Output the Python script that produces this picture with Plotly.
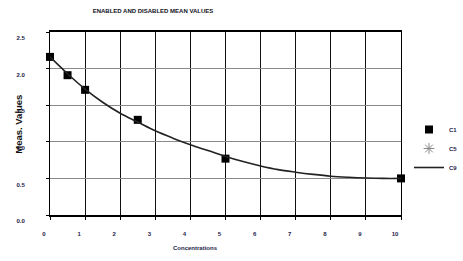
import plotly.graph_objects as go

# Data
c1_x = [0, 0.5, 1, 2.5, 5, 10]
c1_y = [2.16, 1.91, 1.71, 1.30, 0.77, 0.50]

c9_x = [0, 0.5, 1, 1.5, 2, 2.5, 3, 3.5, 4, 4.5, 5, 5.5, 6, 6.5, 7, 7.5, 8, 8.5, 9, 9.5, 10]
c9_y = [2.16, 1.93, 1.72, 1.54, 1.39, 1.27, 1.15, 1.05, 0.96, 0.88, 0.80, 0.73, 0.67, 0.62, 0.585, 0.555, 0.53, 0.515, 0.505, 0.50, 0.50]

x_ticks = [0, 1, 2, 3, 4, 5, 6, 7, 8, 9, 10]
y_ticks = [0.0, 0.5, 1.0, 1.5, 2.0, 2.5]
y_tick_text = ["0.0", "0.5", "1.0", "1.5", "2.0", "2.5"]

title_text = "ENABLED AND DISABLED MEAN VALUES"
x_title = "Concentrations"
y_title = "Meas. Values"

TXT = "#1c1c4a"
FONT = "Liberation Sans"

fig = go.Figure()
fig.add_trace(go.Scatter(
    x=c1_x, y=c1_y, mode="markers", name="C1",
    marker=dict(symbol="square", size=8, color="black"),
    cliponaxis=False,
))
fig.add_trace(go.Scatter(
    x=[None], y=[None], mode="markers", name="C5",
    marker=dict(symbol="asterisk-open", size=9, color="#888888",
                line=dict(color="#888888", width=1)),
))
fig.add_trace(go.Scatter(
    x=c9_x, y=c9_y, mode="lines", name="C9",
    line=dict(color="#222222", width=1.6, shape="spline", smoothing=1.0),
))

fig.update_layout(
    width=463, height=261,
    margin=dict(l=50, r=62, t=32, b=45.5, autoexpand=False),
    paper_bgcolor="white", plot_bgcolor="white",
    font=dict(family=FONT, color=TXT, size=6),
    title=dict(text="<b>" + title_text + "</b>", x=153 / 463, xanchor="center",
               xref="container", y=1 - 11 / 261, yanchor="middle",
               yref="container", font=dict(size=6, color="#111122", family=FONT)),
    showlegend=True,
    legend=dict(x=409 / 463, xref="container", y=1 - 115 / 261, yref="container",
                xanchor="left", yanchor="top",
                font=dict(size=6, color=TXT, family=FONT, weight="bold"),
                itemwidth=30, tracegroupgap=0, bgcolor="rgba(0,0,0,0)"),
)

fig.update_xaxes(
    range=[0, 10], tickvals=x_ticks, ticktext=[str(v) for v in x_ticks],
    showgrid=True, gridcolor="#111111", gridwidth=1,
    showline=True, linecolor="black", linewidth=2, mirror=True,
    ticks="outside", ticklen=3, tickcolor="black",
    tickfont=dict(size=6, color=TXT, family=FONT, weight="bold"),
    ticklabelstandoff=9, ticklabelshift=-6,
    zeroline=False,
)
fig.update_yaxes(
    range=[0, 2.5], tickvals=y_ticks, ticktext=y_tick_text,
    showgrid=True, gridcolor="#8a8a8a", gridwidth=1,
    showline=True, linecolor="black", linewidth=1, mirror=True,
    ticks="outside", ticklen=3, tickcolor="black",
    tickfont=dict(size=6, color=TXT, family=FONT, weight="bold"),
    ticklabelstandoff=20, ticklabelshift=6,
    zeroline=False,
)
fig.add_annotation(
    text="<b>" + x_title + "</b>", xref="paper", yref="paper",
    x=(195 - 50) / 351, y=-(249 - 215.5) / 183.5, showarrow=False,
    xanchor="center", yanchor="middle", font=dict(size=6, color=TXT, family=FONT),
)
fig.add_annotation(
    text="<b>" + y_title + "</b>", xref="paper", yref="paper",
    x=-(50 - 19) / 351, y=(215.5 - 125) / 183.5, showarrow=False, textangle=-90,
    xanchor="center", yanchor="middle", font=dict(size=9.5, color="#111111", family=FONT),
)

fig.write_html("out.html")
